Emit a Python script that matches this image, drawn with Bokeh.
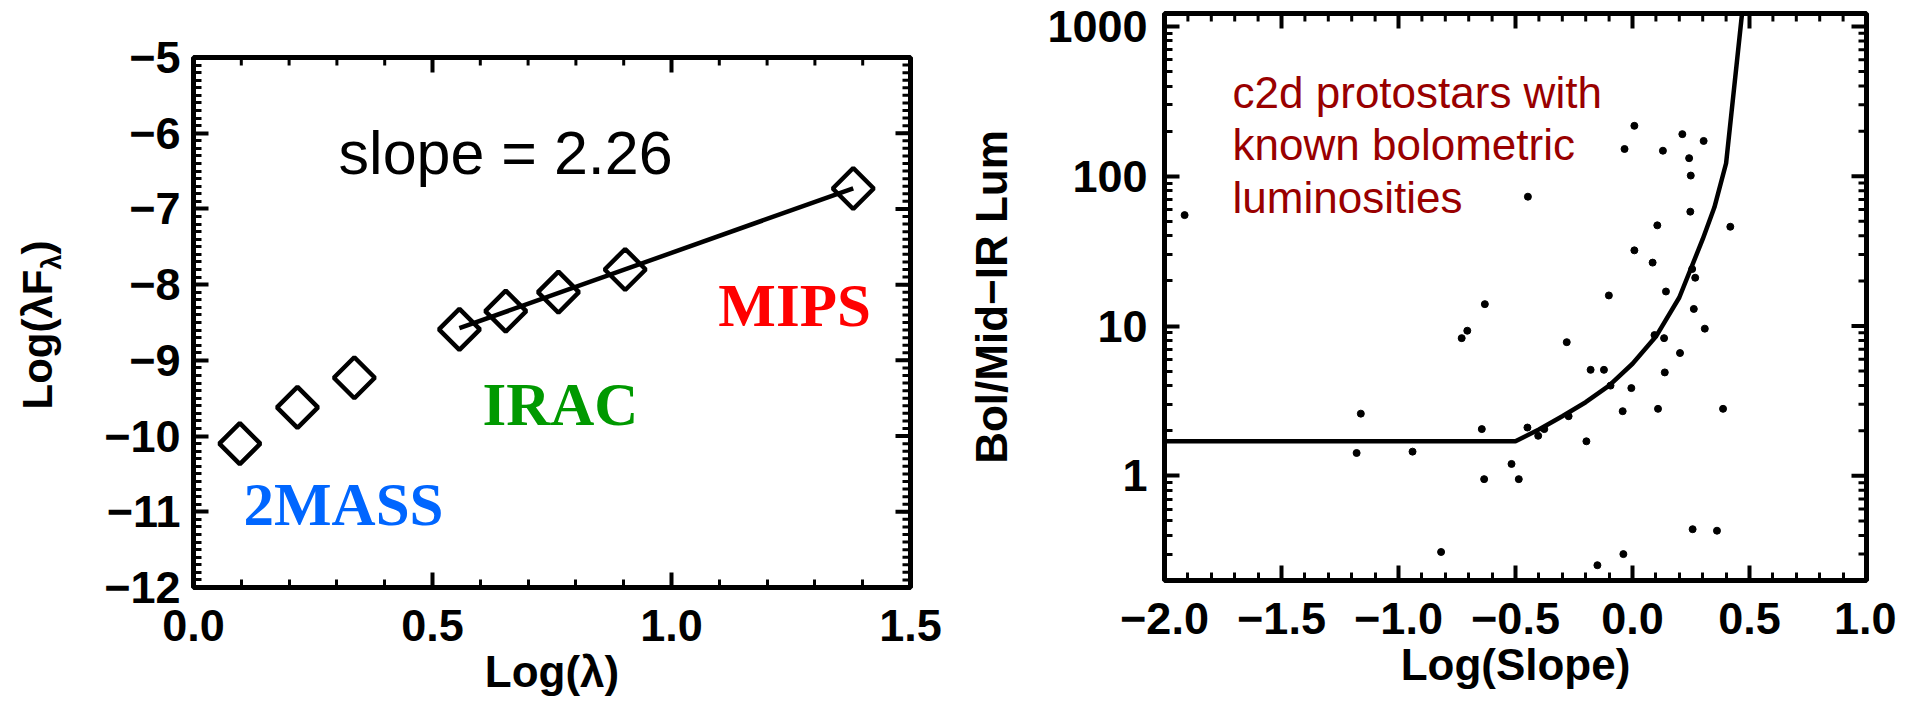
import numpy as np
from bokeh.plotting import figure
from bokeh.models import Range1d, FixedTicker, Label, Spacer
from bokeh.layouts import row, column
from bokeh.embed import file_html
from bokeh.resources import INLINE

# ---------------- data: left panel (SED of one source) ----------------
wavelength_um = [1.25, 1.65, 2.17, 3.6, 4.5, 5.8, 8.0, 24.0]
instrument = ["2MASS", "2MASS", "2MASS", "IRAC", "IRAC", "IRAC", "IRAC", "MIPS"]
log_lam_f_lam = [-10.10, -9.62, -9.23, -8.59, -8.35, -8.10, -7.80, -6.73]
fit_instruments = ["IRAC", "MIPS"]
slope_text = "slope = 2.26"
band_names = ["2MASS", "IRAC", "MIPS"]
band_colors = ["#0066ff", "#009900", "#ff0000"]

left_xticks = [0.0, 0.5, 1.0, 1.5]
left_xtick_labels = ["0.0", "0.5", "1.0", "1.5"]
left_yticks = [-12, -11, -10, -9, -8, -7, -6, -5]
left_ytick_labels = ["\u221212", "\u221211", "\u221210", "\u22129", "\u22128", "\u22127", "\u22126", "\u22125"]

# ---------------- data: right panel (c2d protostars) ----------------
log_slope = [-1.914, -0.447, 0.008, -0.034, 0.213, 0.304, 0.130, 0.242, 0.249, 0.247,
             0.106, 0.418, 0.008, 0.086, 0.255, 0.268, 0.143, -0.101, -0.631, 0.262,
             0.309, -0.706, -0.730, 0.094, 0.135, -0.281, 0.203, -0.179, -0.122, 0.138,
             -0.094, -0.005, 0.109, -0.042, 0.387, -1.161, -0.273, -0.449, -0.644, -0.377,
             -0.403, -0.197, -1.179, -0.940, -0.517, -0.634, -0.486, 0.257, 0.361, -0.818,
             -0.039, -0.150]
bol_mir_ratio = [55, 73, 217, 152, 191, 172, 148, 132, 101, 58,
                 47, 46, 32, 26.5, 24, 21, 17, 16, 14, 13,
                 9.6, 9.3, 8.3, 8.7, 8.3, 7.8, 6.6, 5.1, 5.1, 4.9,
                 4.0, 3.85, 2.8, 2.7, 2.8, 2.6, 2.5, 2.1, 2.05, 2.05,
                 1.85, 1.7, 1.42, 1.45, 1.2, 0.95, 0.95, 0.44, 0.43, 0.31,
                 0.30, 0.253]
model_log_slope = [-2.0, -0.5, -0.4, -0.3, -0.2, -0.1, 0.0, 0.1, 0.2, 0.3, 0.35, 0.4, 0.47]
model_ratio = [1.70, 1.70, 2.04, 2.5, 3.1, 4.0, 5.6, 8.5, 15.5, 38, 62, 122, 1300]
notes = ["c2d protostars with", "known bolometric", "luminosities"]

right_xticks = [-2.0, -1.5, -1.0, -0.5, 0.0, 0.5, 1.0]
right_xtick_labels = ["\u22122.0", "\u22121.5", "\u22121.0", "\u22120.5", "0.0", "0.5", "1.0"]
right_yticks = [1, 10, 100, 1000]
right_ytick_labels = ["1", "10", "100", "1000"]

FONT = "Liberation Sans"
SERIF = "Liberation Serif"
MAJ_LEN, MIN_LEN = 15, 8
TOP, BOTTOM = 37, 127          # top / bottom borders of the left panel
RIGHT_TOP = 13                 # top border of the right panel
LEFT_DROP = 20                 # the left panel sits lower than the right one


def style_axis(ax, standoff):
    ax.axis_line_color = None
    ax.major_tick_in = MAJ_LEN
    ax.major_tick_out = 0
    ax.minor_tick_in = MIN_LEN
    ax.minor_tick_out = 0
    ax.major_tick_line_width = 4
    ax.minor_tick_line_width = 3
    ax.major_tick_line_color = "black"
    ax.minor_tick_line_color = "black"
    ax.major_label_text_font = FONT
    ax.major_label_text_font_style = "bold"
    ax.major_label_text_color = "black"
    ax.major_label_text_font_size = "45px"
    ax.major_label_standoff = standoff
    ax.axis_label_text_font = FONT
    ax.axis_label_text_font_style = "bold"
    ax.axis_label_text_font_size = "44px"
    ax.axis_label_text_color = "black"


def base_figure(width, height, x_range, y_range, left, right, top, y_log=False):
    p = figure(width=width, height=height, x_range=x_range, y_range=y_range,
               y_axis_type="log" if y_log else "linear",
               toolbar_location=None, output_backend="svg", title=None,
               min_border_left=left, min_border_right=right,
               min_border_top=top, min_border_bottom=BOTTOM)
    p.xgrid.visible = False
    p.ygrid.visible = False
    p.outline_line_color = "black"
    p.outline_line_width = 5
    p.background_fill_color = "white"
    p.border_fill_color = "white"
    return p


def mirror_ticks(p, xt, yt, xr, yr):
    """IDL-style box: repeat the tick marks on the top and right edges."""
    for ticks, length, width in ((xt.ticks, MAJ_LEN, 4), (xt.minor_ticks, MIN_LEN, 3)):
        p.ray(x=list(ticks), y=[yr.end] * len(ticks), length=length, length_units="screen",
              angle=-np.pi / 2, line_color="black", line_width=width)
    for ticks, length, width in ((yt.ticks, MAJ_LEN, 4), (yt.minor_ticks, MIN_LEN, 3)):
        p.ray(x=[xr.end] * len(ticks), y=list(ticks), length=length, length_units="screen",
              angle=np.pi, line_color="black", line_width=width)


# ======================= left panel =======================
lxr, lyr = Range1d(0, 1.5), Range1d(-12, -5)
LH = 530 + TOP + BOTTOM
p1 = base_figure(880, LH, lxr, lyr, 123, 40, TOP)

lx_ticker = FixedTicker(ticks=left_xticks, minor_ticks=list(np.round(np.arange(0, 1.51, 0.1), 2)))
ly_ticker = FixedTicker(ticks=left_yticks, minor_ticks=list(np.round(np.arange(-12, -4.95, 0.1), 2)))
p1.xaxis.ticker = lx_ticker
p1.yaxis.ticker = ly_ticker
for ax in p1.xaxis:
    style_axis(ax, 22)
    ax.major_label_overrides = dict(zip(left_xticks, left_xtick_labels))
    ax.axis_label = "Log(\u03bb)"
    ax.axis_label_standoff = 3
for ax in p1.yaxis:
    style_axis(ax, 13)
    ax.major_label_overrides = dict(zip(left_yticks, left_ytick_labels))
mirror_ticks(p1, lx_ticker, ly_ticker, lxr, lyr)

log_lam = np.log10(np.array(wavelength_um))
yv = np.array(log_lam_f_lam)
fit_mask = np.array([b in fit_instruments for b in instrument])
coef = np.polyfit(log_lam[fit_mask], yv[fit_mask], 1)
fit_x = np.array([log_lam[fit_mask].min(), log_lam[fit_mask].max()])
p1.line(fit_x, np.polyval(coef, fit_x), line_color="black", line_width=4.5)
p1.scatter(log_lam, yv, marker="square", angle=np.pi / 4, size=29,
           fill_color=None, line_color="black", line_width=4.5)

p1.add_layout(Label(x=0.653, y=-6.255, text=slope_text, text_align="center",
                    text_baseline="alphabetic", text_font=FONT, text_font_size="61px",
                    text_color="black"))

band_pos = [(0.1046, -10.904), (0.6046, -9.583), (1.098, -8.276)]
for name, col, (bx, by) in zip(band_names, band_colors, band_pos):
    p1.add_layout(Label(x=bx, y=by, text=name, text_align="left", text_baseline="alphabetic",
                        text_font=SERIF, text_font_style="bold", text_font_size="61px",
                        text_color=col))

# narrow strip holding the rotated y title of the left panel (with subscript);
# every piece is anchored at its own centre so the rotation cannot move it
tfig = figure(width=70, height=LH, x_range=Range1d(0, 70), y_range=Range1d(-12, -5),
              toolbar_location=None, output_backend="svg", title=None,
              min_border_left=0, min_border_right=0, min_border_top=TOP, min_border_bottom=BOTTOM)
tfig.xaxis.visible = False
tfig.yaxis.visible = False
tfig.xgrid.visible = False
tfig.ygrid.visible = False
tfig.outline_line_color = None
title_style = dict(angle=np.pi / 2, text_align="center", text_baseline="middle", text_font=FONT,
                   text_font_style="bold", text_color="black")
title_parts = [("Log(\u03bbF", 37, -8.725, "42px"),
               ("\u03bb", 51, -7.70, "27px"),
               (")", 37, -7.51, "42px")]
for txt, tx, ty, fs in title_parts:
    tfig.add_layout(Label(x=tx, y=ty, text=txt, text_font_size=fs, **title_style))

# ======================= right panel =======================
rxr, ryr = Range1d(-2.0, 1.0), Range1d(0.2, 1220)
p2 = base_figure(946, 567 + RIGHT_TOP + BOTTOM, rxr, ryr, 214, 30, RIGHT_TOP, y_log=True)

rx_ticker = FixedTicker(ticks=right_xticks, minor_ticks=list(np.round(np.arange(-2.0, 1.01, 0.1), 2)))
ry_minor = [k * 10.0 ** e for e in range(-1, 3) for k in range(2, 10) if k * 10.0 ** e >= 0.2]
ry_ticker = FixedTicker(ticks=right_yticks, minor_ticks=ry_minor)
p2.xaxis.ticker = rx_ticker
p2.yaxis.ticker = ry_ticker
for ax in p2.xaxis:
    style_axis(ax, 22)
    ax.major_label_overrides = dict(zip(right_xticks, right_xtick_labels))
    ax.axis_label = "Log(Slope)"
    ax.axis_label_standoff = 3
for ax in p2.yaxis:
    style_axis(ax, 17)
    ax.major_label_overrides = dict(zip(right_yticks, right_ytick_labels))
    ax.axis_label = "Bol/Mid\u2212IR Lum"
    ax.axis_label_standoff = 28
mirror_ticks(p2, rx_ticker, ry_ticker, rxr, ryr)

p2.line(model_log_slope, model_ratio, line_color="black", line_width=4.5)
p2.scatter(log_slope, bol_mir_ratio, marker="circle", size=7,
           fill_color="black", line_color="black")

for i, line in enumerate(notes):
    p2.add_layout(Label(x=-1.709, y=363, y_offset=-52.5 * i, text=line, text_align="left",
                        text_baseline="alphabetic", text_font=FONT, text_font_size="44px",
                        text_color="#990000"))

left_block = column(Spacer(width=950, height=LEFT_DROP), row(tfig, p1))
layout = row(left_block, p2)
open("out.html", "w").write(file_html(layout, INLINE))
